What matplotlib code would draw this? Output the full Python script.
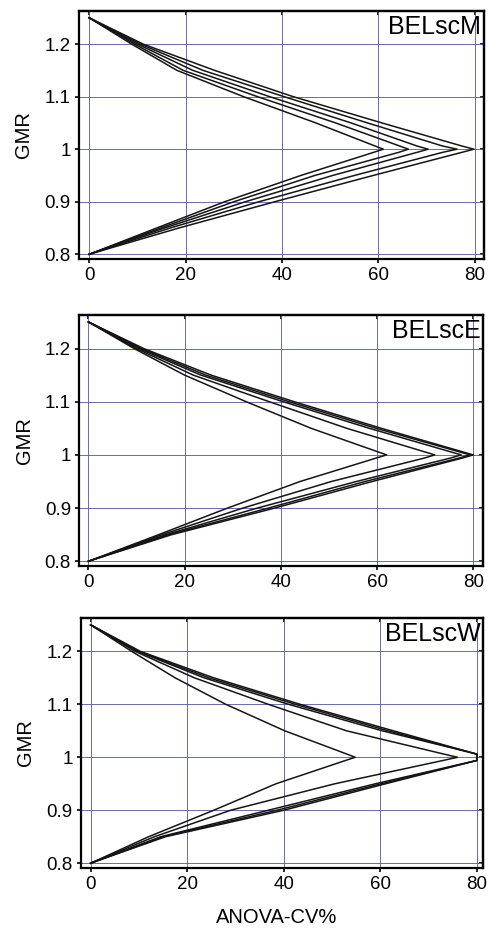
import matplotlib
matplotlib.use('Agg')
import matplotlib.pyplot as plt

plt.rcParams['font.family'] = ['Liberation Sans', 'DejaVu Sans']

#GMR levels at which the CV values were read
gmr = [0.80, 0.85, 0.90, 0.95, 0.994, 1.00, 1.006, 1.05, 1.10, 1.15, 1.20, 1.25]

#BELscM curves (ANOVA-CV%)
cv_m = [
    [0, 14.0, 28.1, 43.9, 59.0, 61.0, 59.3, 47.0, 32.0, 18.2, 8.8, 0],
    [0, 14.8, 30.0, 46.8, 64.2, 66.2, 64.4, 51.1, 34.9, 19.5, 9.4, 0],
    [0, 15.6, 32.4, 50.5, 68.0, 70.3, 68.0, 54.3, 37.4, 21.5, 10.0, 0],
    [0, 16.8, 35.2, 55.0, 73.3, 76.3, 73.3, 57.7, 40.4, 23.6, 10.6, 0],
    [0, 18.6, 38.5, 58.9, 77.3, 79.8, 77.3, 60.7, 42.3, 26.0, 11.2, 0],
]

#BELscE curves
cv_e = [
    [0, 14.6, 28.9, 44.0, 59.8, 62.0, 60.1, 46.3, 32.8, 20.0, 9.5, 0],
    [0, 15.3, 32.1, 50.5, 69.8, 72.0, 69.8, 53.7, 37.6, 21.8, 10.0, 0],
    [0, 16.1, 35.1, 55.7, 75.2, 77.5, 75.2, 58.4, 40.5, 23.4, 10.5, 0],
    [0, 16.7, 37.4, 57.5, 77.0, 79.3, 77.0, 59.8, 41.7, 24.4, 11.0, 0],
    [0, 17.3, 38.7, 59.0, 77.7, 80.0, 77.7, 60.9, 42.8, 25.5, 11.5, 0],
]

#BELscW curves
cv_w = [
    [0, 12.0, 25.5, 38.4, 52.8, 54.8, 53.1, 40.2, 28.0, 17.5, 8.5, 0],
    [0, 13.2, 29.0, 50.6, 73.0, 76.0, 73.2, 53.0, 36.8, 21.5, 9.2, 0],
    [0, 14.5, 36.8, 59.0, 80.0, 80.0, 80.0, 60.4, 41.0, 23.5, 9.7, 0],
    [0, 15.0, 38.6, 60.2, 80.0, 80.0, 80.0, 61.6, 42.4, 24.5, 10.0, 0],
    [0, 15.5, 40.0, 61.1, 80.0, 80.0, 80.0, 62.7, 43.4, 25.5, 10.3, 0],
]

panel_names = ['BELscM', 'BELscE', 'BELscW']
panel_data = [cv_m, cv_e, cv_w]

x_ticks = [0, 20, 40, 60, 80]
y_ticks = [0.8, 0.9, 1.0, 1.1, 1.2]
y_labels = ['0.8', '0.9', '1', '1.1', '1.2']

#axes boxes in figure fractions
boxes = [
    [0.162, 0.7218, 0.830, 0.2664],
    [0.1625, 0.392, 0.828, 0.2696],
    [0.166, 0.0677, 0.824, 0.2685],
]
x_limits = [(-2.1, 81.9), (-1.9, 82.1), (-2.0, 81.3)]

fig = plt.figure(figsize=(4.88, 9.31), dpi=100)

for box, name, curves, xl in zip(boxes, panel_names, panel_data, x_limits):
    ax = fig.add_axes(box)

    #curves
    for cv in curves:
        ax.plot(cv, gmr, color='#151515', linewidth=1.1, zorder=3,
                solid_joinstyle='round')

    ax.set_xlim(xl)
    ax.set_ylim(0.791, 1.263)

    #ticks and labels (outward on left/bottom)
    ax.set_xticks(x_ticks)
    ax.set_xticklabels([str(t) for t in x_ticks], fontsize=13.5)
    ax.set_yticks(y_ticks)
    ax.set_yticklabels(y_labels, fontsize=13.5)
    ax.tick_params(axis='both', direction='out', length=3, width=1.2,
                   pad=3, colors='black')

    #inward ticks on top/right
    top = ax.secondary_xaxis('top')
    top.set_xticks(x_ticks)
    top.tick_params(direction='in', length=3, width=1.2, labeltop=False)
    right = ax.secondary_yaxis('right')
    right.set_yticks(y_ticks)
    right.tick_params(direction='in', length=3, width=1.2, labelright=False)

    #grid
    ax.grid(color='#5a5aa8', linewidth=0.7, alpha=0.9)
    ax.set_axisbelow(True)

    for sp in ax.spines.values():
        sp.set_linewidth(1.6)
    top.spines['top'].set_linewidth(1.6)
    right.spines['right'].set_linewidth(1.6)

    ax.set_ylabel('GMR', fontsize=14.5, labelpad=8)

    #panel name
    ax.text(0.993, 0.985, name, transform=ax.transAxes, ha='right',
            va='top', fontsize=18)

fig.text(0.567, 0.004, 'ANOVA-CV%', ha='center', va='bottom', fontsize=14.5)

fig.savefig('out.png', dpi=100)
